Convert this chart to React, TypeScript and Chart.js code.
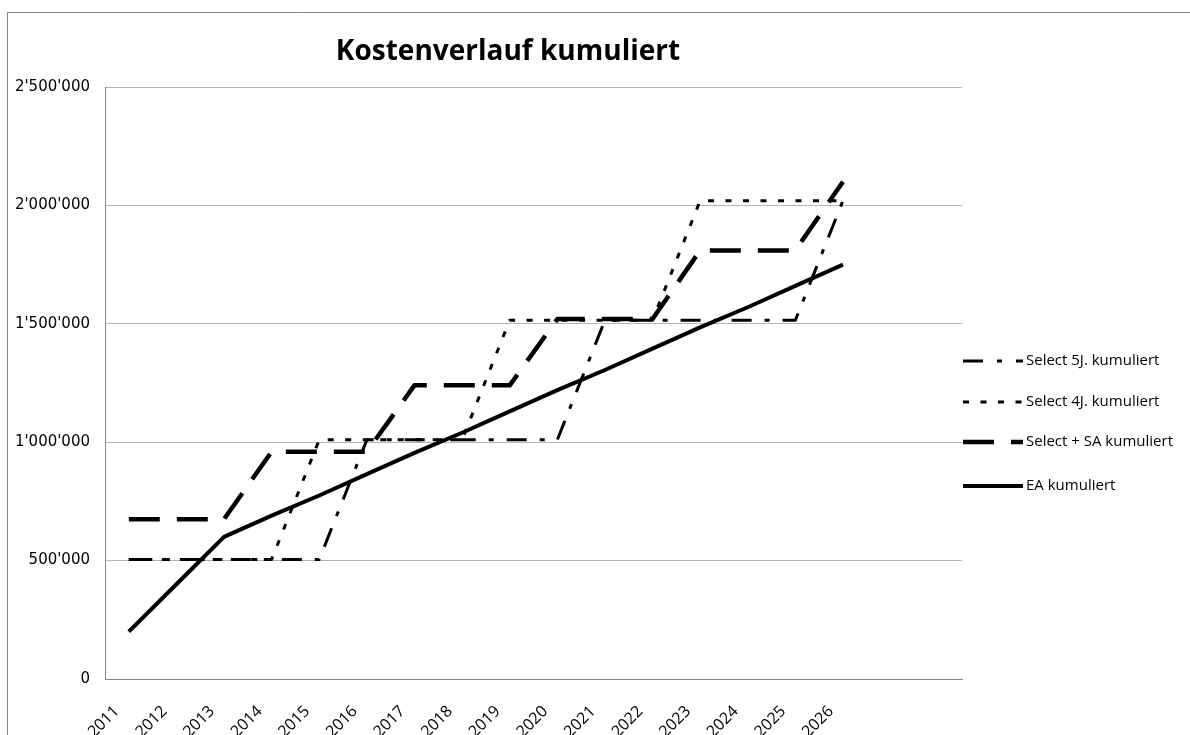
import React, { useEffect, useRef } from "react";
import { Chart, registerables } from "chart.js";

Chart.register(...registerables);

// ---- data ----
const years = ["2011", "2012", "2013", "2014", "2015", "2016", "2017", "2018", "2019", "2020", "2021", "2022", "2023", "2024", "2025", "2026", "", ""];
const select5J = [505000, 505000, 505000, 505000, 505000, 1010000, 1010000, 1010000, 1010000, 1010000, 1515000, 1515000, 1515000, 1515000, 1515000, 2020000];
const select4J = [505000, 505000, 505000, 505000, 1010000, 1010000, 1010000, 1010000, 1515000, 1515000, 1515000, 1515000, 2020000, 2020000, 2020000, 2020000];
const selectSA = [675000, 675000, 675000, 960000, 960000, 960000, 1240000, 1240000, 1240000, 1520000, 1520000, 1520000, 1810000, 1810000, 1810000, 2100000];
const eaKum = [200000, 400000, 600000, 690000, 775000, 865000, 955000, 1040000, 1130000, 1220000, 1305000, 1395000, 1485000, 1570000, 1660000, 1750000];
const seriesNames = ["Select 5J. kumuliert", "Select 4J. kumuliert", "Select + SA kumuliert", "EA kumuliert"];
const titleText = "Kostenverlauf kumuliert";
const yMax = 2500000;
const yStep = 500000;

const fmt = (v: number) => String(Math.round(v)).replace(/\B(?=(\d{3})+(?!\d))/g, "'");

const legendDash: number[][] = [[20, 14, 5, 14], [6, 11.5], [31, 17], []];
const legendY = [361, 402, 442, 486];

const decorPlugin = {
  id: "decor",
  afterDraw(chart: any) {
    const ctx = chart.ctx as CanvasRenderingContext2D;
    ctx.save();
    // frame
    ctx.strokeStyle = "#878787";
    ctx.lineWidth = 1;
    ctx.beginPath();
    ctx.moveTo(7.5, 800);
    ctx.lineTo(7.5, 12.5);
    ctx.lineTo(1300, 12.5);
    ctx.stroke();
    // title
    ctx.fillStyle = "#000";
    ctx.font = "bold 28px 'Open Sans'";
    ctx.textAlign = "center";
    ctx.textBaseline = "middle";
    ctx.fillText(titleText, 508, 52);
    // legend
    const ds = chart.data.datasets;
    ds.forEach((d: any, i: number) => {
      const y = legendY[i];
      ctx.beginPath();
      ctx.setLineDash(legendDash[i]);
      ctx.lineWidth = d.borderWidth;
      ctx.strokeStyle = d.borderColor;
      ctx.lineCap = "butt";
      ctx.moveTo(963, y);
      ctx.lineTo(1023, y);
      ctx.stroke();
      ctx.setLineDash([]);
      ctx.font = "15px 'Open Sans'";
      ctx.textAlign = "left";
      ctx.fillStyle = "#000";
      ctx.fillText(d.label, 1026, y);
    });
    ctx.restore();
  },
};

export default function App() {
  const ref = useRef<HTMLCanvasElement>(null);
  useEffect(() => {
    if (!ref.current) return;
    const mk = (label: string, data: number[], width: number, dash: number[]) => ({
      label,
      data,
      borderColor: "#000",
      backgroundColor: "#000",
      borderWidth: width,
      borderDash: dash,
      borderJoinStyle: "round" as const,
      pointRadius: 0,
      tension: 0,
      fill: false,
    });
    const chart = new Chart(ref.current, {
      type: "line",
      data: {
        labels: years,
        datasets: [
          mk(seriesNames[0], select5J, 3, [20, 13, 5, 13]),
          mk(seriesNames[1], select4J, 3, [6, 11.5]),
          mk(seriesNames[2], selectSA, 4.5, [31, 17]),
          mk(seriesNames[3], eaKum, 4, []),
        ],
      },
      options: {
        responsive: false,
        animation: false,
        devicePixelRatio: 1,
        layout: { padding: { left: 0, right: 228, top: 87, bottom: 0 } },
        plugins: { legend: { display: false }, title: { display: false }, tooltip: { enabled: false } },
        scales: {
          x: {
            type: "category",
            offset: true,
            grid: { display: false, drawTicks: false },
            border: { color: "#868686", width: 1 },
            ticks: {
              autoSkip: false,
              maxRotation: 45,
              minRotation: 45,
              padding: 23,
              labelOffset: -12,
              color: "#000",
              font: { family: "'Open Sans'", size: 16 },
            },
            afterFit: (s: any) => {
              s.height = 56;
            },
          },
          y: {
            min: 0,
            max: yMax,
            grid: { color: "#b4b4b4", drawTicks: false, lineWidth: 1 },
            border: { color: "#868686", width: 1 },
            ticks: {
              stepSize: yStep,
              padding: 15,
              color: "#000",
              font: { family: "DejaVu Sans", size: 15 },
              callback: (v: any) => fmt(Number(v)),
            },
            afterFit: (s: any) => {
              s.width = 105;
            },
          },
        },
      },
      plugins: [decorPlugin],
    });
    return () => chart.destroy();
  }, []);
  return (
    <div style={{ position: "absolute", left: 0, top: 0, width: 1190, height: 735, background: "#fff" }}>
      <canvas ref={ref} width={1190} height={735} />
    </div>
  );
}
